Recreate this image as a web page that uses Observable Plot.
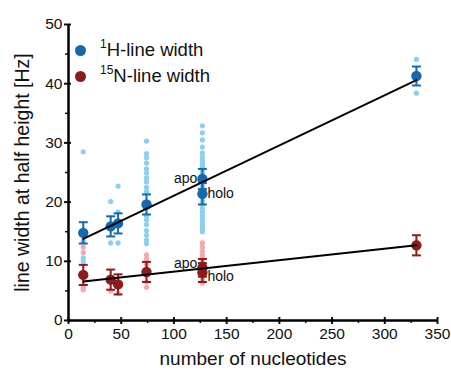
<!DOCTYPE html>
<html>
<head>
<meta charset="utf-8">
<script src="https://cdn.jsdelivr.net/npm/d3@7"></script>
<script src="https://cdn.jsdelivr.net/npm/@observablehq/plot@0.6"></script>
<style>
  html, body { margin: 0; padding: 0; background: #fff; }
  #wrap { position: relative; width: 451px; height: 374px; font-family: "Liberation Sans", Arial, sans-serif; }
  .lg { position: absolute; left: 75px; height: 22px; display: flex; align-items: center; font-size: 18.5px; color: #111; white-space: nowrap; }
  .lg .dot { width: 11px; height: 11px; border-radius: 50%; margin-right: 14px; }
  .lg sup { font-size: 12px; position: relative; top: -6px; vertical-align: baseline; line-height: 0; }
</style>
</head>
<body>
<div id="wrap"></div>
<script>
// ---- data ----
const xs      = [14, 40, 47, 74, 127, 127, 330];
const states  = ["", "", "", "", "apo", "holo", ""];
const hMean   = [14.8, 15.9, 16.4, 19.6, 23.9, 21.4, 41.3];
const hErr    = [1.8, 1.7, 1.7, 1.7, 1.7, 1.8, 1.6];
const nMean   = [7.7, 6.9, 6.1, 8.2, 8.9, 8.1, 12.7];
const nErr    = [1.7, 1.7, 1.7, 1.7, 1.5, 1.6, 1.7];

const hSpread = [
  [14, [28.5, 13.4, 10.6, 10.0]],
  [40, [20.1, 13.1]],
  [47, [22.7, 18.3, 13.1]],
  [74, [30.3, 28.2, 27.5, 26.6, 25.6, 24.9, 24.1, 23.4, 22.5, 21.8, 17.7, 17.0, 16.2, 15.2, 14.4, 13.6, 13.0]],
  [127, [32.9, 31.7, 30.5, 29.3, 28.3, 27.6, 27.0, 26.5, 25.9, 25.3, 24.7, 22.6, 20.2, 19.6, 18.9, 18.3, 17.7, 17.2, 16.6, 16.0, 15.5, 15.0]],
  [330, [44.1, 38.4]]
];
const nSpread = [
  [14, [12.4, 11.5, 5.6, 5.2]],
  [40, [5.0]],
  [47, [4.6]],
  [74, [11.1, 10.4, 9.5, 6.5, 5.6]],
  [127, [13.1, 12.4, 11.7, 11.0, 10.3, 9.8, 7.4, 6.8, 6.3]]
];
const fitX = [14, 330];
const fitH = [13.8, 40.6];
const fitN = [6.6, 12.7];

const xTicks = [0, 50, 100, 150, 200, 250, 300, 350];
const xMinor = [25, 75, 125, 175, 225, 275, 325];
const yTicks = [0, 10, 20, 30, 40, 50];
const yMinor = [5, 15, 25, 35, 45];

// ---- styling ----
const cH = "#1569ad", cHl = "#8dcfee";
const cN = "#8e1b1b", cNl = "#f3a9ae";
const FONT = "Liberation Sans, Arial, sans-serif";

const means = xs.map((x, i) => ({x, state: states[i], hm: hMean[i], he: hErr[i], nm: nMean[i], ne: nErr[i]}));
const hPts = hSpread.flatMap(([x, v]) => v.map(y => ({x, y})));
const nPts = nSpread.flatMap(([x, v]) => v.map(y => ({x, y})));
const fits = fitX.map((x, i) => ({x, h: fitH[i], n: fitN[i]}));

const cap = { draw(ctx) { ctx.moveTo(-4.5, 0); ctx.lineTo(4.5, 0); } };

const errMarks = (m, e, col) => [
  Plot.ruleX(means, {x: "x", y1: d => d[m] - d[e], y2: d => d[m] + d[e], stroke: col, strokeWidth: 2}),
  Plot.dot(means, {x: "x", y: d => d[m] + d[e], symbol: cap, stroke: col, strokeWidth: 2, fill: "none"}),
  Plot.dot(means, {x: "x", y: d => d[m] - d[e], symbol: cap, stroke: col, strokeWidth: 2, fill: "none"}),
  Plot.dot(means, {x: "x", y: m, r: 5.2, fill: col})
];

const chart = Plot.plot({
  width: 451, height: 374,
  marginLeft: 68, marginRight: 14, marginTop: 24, marginBottom: 54,
  style: {fontFamily: FONT, background: "#fff", color: "#111"},
  x: {domain: [0, 350]},
  y: {domain: [0, 50]},
  marks: [
    Plot.dot(hPts, {x: "x", y: "y", r: 2.6, fill: cHl}),
    Plot.dot(nPts, {x: "x", y: "y", r: 2.6, fill: cNl}),
    ...errMarks("hm", "he", cH),
    ...errMarks("nm", "ne", cN),
    Plot.line(fits, {x: "x", y: "h", stroke: "#000", strokeWidth: 2}),
    Plot.line(fits, {x: "x", y: "n", stroke: "#000", strokeWidth: 2}),
    Plot.text(means.filter(d => d.state === "apo"), {x: "x", y: "hm", text: "state", textAnchor: "end", dx: -5, dy: 0, fontSize: 14, fill: "#111"}),
    Plot.text(means.filter(d => d.state === "holo"), {x: "x", y: "hm", text: "state", textAnchor: "start", dx: 5, dy: 0, fontSize: 14, fill: "#111"}),
    Plot.text(means.filter(d => d.state === "apo"), {x: "x", y: "nm", text: "state", textAnchor: "end", dx: -5, dy: -4, fontSize: 14, fill: "#111"}),
    Plot.text(means.filter(d => d.state === "holo"), {x: "x", y: "nm", text: "state", textAnchor: "start", dx: 5, dy: 4, fontSize: 14, fill: "#111"}),
    Plot.axisX({ticks: xTicks, tickSize: 4, tickPadding: 3, fontSize: 15.5, label: null, strokeWidth: 2}),
    Plot.axisX({ticks: xTicks, tickSize: -3, tickFormat: () => "", label: null, strokeWidth: 2}),
    Plot.axisX({ticks: xMinor, tickSize: 3, tickFormat: () => "", label: null, strokeWidth: 1.5}),
    Plot.axisY({ticks: yTicks, tickSize: 4, tickPadding: 2, fontSize: 15.5, label: null, strokeWidth: 2}),
    Plot.axisY({ticks: yTicks, tickSize: -3, tickFormat: () => "", label: null, strokeWidth: 2}),
    Plot.axisY({ticks: yMinor, tickSize: 3, tickFormat: () => "", label: null, strokeWidth: 1.5}),
    Plot.ruleY([0], {stroke: "#000", strokeWidth: 2.5}),
    Plot.ruleX([0], {stroke: "#000", strokeWidth: 2.5}),
    Plot.text(["number of nucleotides"], {text: d => d, frameAnchor: "bottom", lineAnchor: "middle", dy: 38, fontSize: 19, fill: "#111"}),
    Plot.text(["line width at half height [Hz]"], {text: d => d, frameAnchor: "left", textAnchor: "middle", rotate: -90, dx: -46, fontSize: 19.5, fill: "#111"})
  ]
});

const wrap = document.getElementById("wrap");
wrap.appendChild(chart);

const legendItems = [
  {iso: "1", rest: "H-line width", color: cH, top: 39},
  {iso: "15", rest: "N-line width", color: cN, top: 65}
];
for (const it of legendItems) {
  const row = document.createElement("div");
  row.className = "lg";
  row.style.top = it.top + "px";
  row.innerHTML = `<span class="dot" style="background:${it.color}"></span><sup>${it.iso}</sup><span>${it.rest}</span>`;
  wrap.appendChild(row);
}
</script>
</body>
</html>
